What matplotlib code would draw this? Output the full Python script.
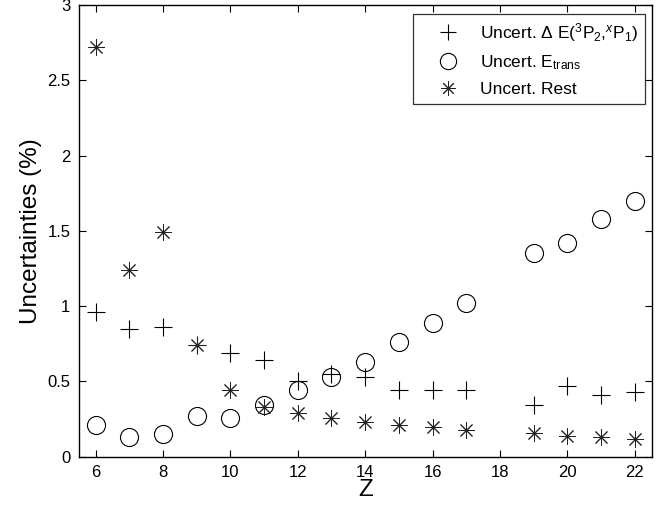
import matplotlib
matplotlib.use("Agg")
import matplotlib.pyplot as plt

plt.rcParams["font.family"] = ["Liberation Sans", "DejaVu Sans"]
plt.rcParams["mathtext.fontset"] = "custom"
plt.rcParams["mathtext.rm"] = "Liberation Sans"
plt.rcParams["mathtext.it"] = "Liberation Sans:italic"

# Z values and uncertainties (%)
z = [6, 7, 8, 9, 10, 11, 12, 13, 14, 15, 16, 17, 19, 20, 21, 22]
unc_dE = [0.96, 0.85, 0.86, 0.74, 0.69, 0.64, 0.50, 0.55, 0.53, 0.44, 0.44, 0.44,
          0.34, 0.47, 0.41, 0.43]
unc_Etrans = [0.21, 0.13, 0.15, 0.27, 0.26, 0.34, 0.44, 0.53, 0.63, 0.76, 0.89, 1.02,
              1.35, 1.42, 1.58, 1.70]
unc_rest = [2.72, 1.24, 1.49, 0.74, 0.44, 0.33, 0.29, 0.26, 0.23, 0.21, 0.20, 0.18,
            0.16, 0.14, 0.13, 0.12]

xticks = [6, 8, 10, 12, 14, 16, 18, 20, 22]
yticks = [0, 0.5, 1, 1.5, 2, 2.5, 3]

fig = plt.figure(figsize=(6.71, 5.11), dpi=100)
ax = fig.add_axes([0.1173, 0.1063, 0.8539, 0.8839])

ax.plot(z, unc_dE, linestyle="none", marker="+", ms=13, mew=0.8, color="black",
        label=r"Uncert. $\Delta$ E($^3$P$_2$,$^x$P$_1$)")
ax.plot(z, unc_Etrans, linestyle="none", marker="o", ms=13, mew=0.8, mfc="none",
        color="black", label=r"Uncert. E$_{\rm trans}$")
ax.plot(z, unc_rest, linestyle="none", marker=(8, 2, 0), ms=12, mew=0.7, color="#222222",
        label="Uncert. Rest")

ax.set_xlim(5.5, 22.5)
ax.set_ylim(0, 3)
ax.set_xticks(xticks)
ax.set_yticks(yticks)
ax.set_yticklabels(["0", "0.5", "1", "1.5", "2", "2.5", "3"])
ax.tick_params(direction="in", top=True, right=True, length=5, width=0.8,
               labelsize=12, pad=6)
for s in ax.spines.values():
    s.set_linewidth(1.0)

ax.set_xlabel("Z", fontsize=17.5, labelpad=-1)
ax.set_ylabel("Uncertainties (%)", fontsize=17.5, labelpad=4)

# MATLAB-style legend: wide handle column, marker centred in it
leg = ax.legend(loc="upper right", bbox_to_anchor=(0.9884, 0.980), borderaxespad=0,
                fontsize=12.5, frameon=True, fancybox=False, edgecolor="black",
                borderpad=0.4, labelspacing=0.55, handlelength=3.2,
                handletextpad=0.25, markerscale=0.9)
leg.get_frame().set_linewidth(0.9)

fig.savefig("out.png", dpi=100)
